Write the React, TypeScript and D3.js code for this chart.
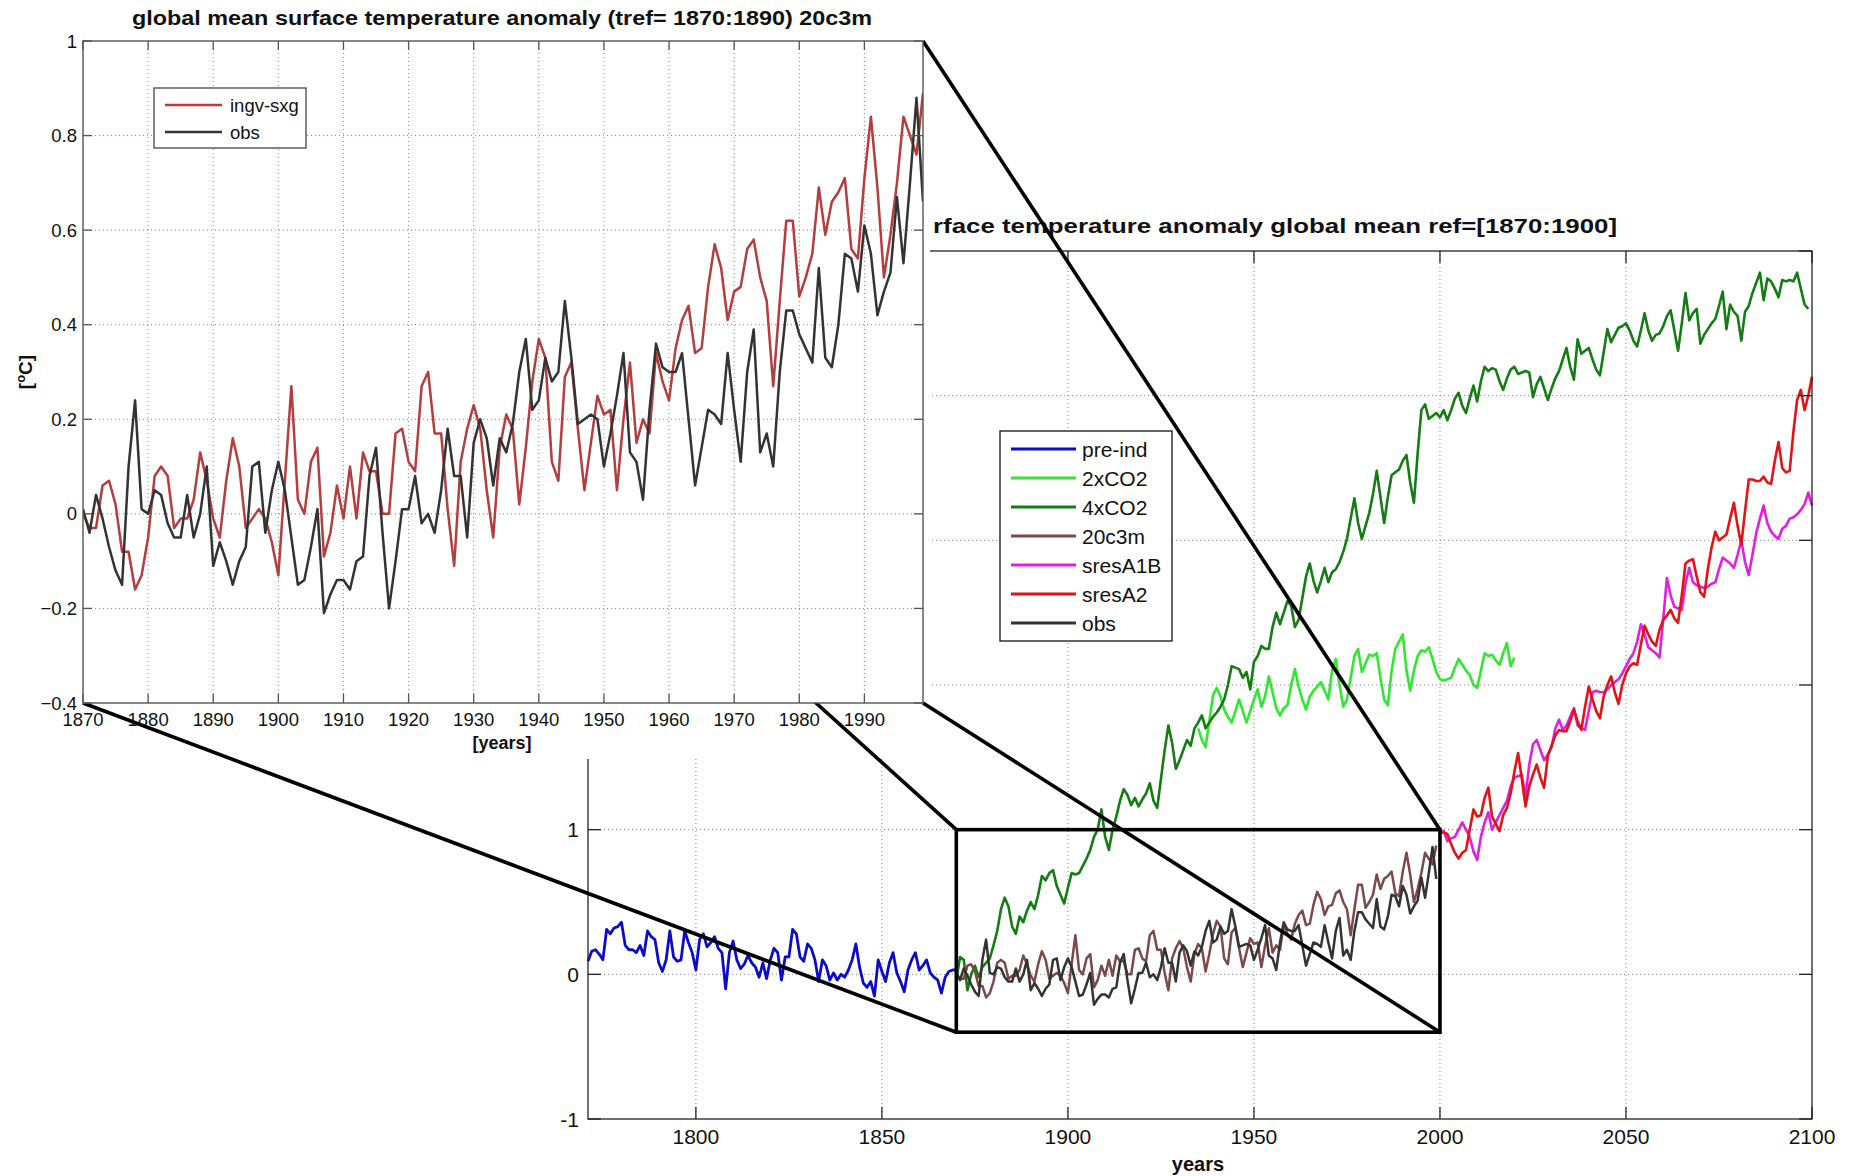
import React from 'react';
import * as d3 from 'd3';

// ---- 20th century runs (inset and main panel), annual from 1870 ----
const histStart = 1870;
const ingvSxg = [
  0.00, -0.03, -0.03, 0.06, 0.07, 0.02, -0.08, -0.08, -0.16, -0.13,
  -0.05, 0.08, 0.10, 0.08, -0.03, -0.01, -0.01, 0.03, 0.13, 0.07,
  -0.01, -0.05, 0.07, 0.16, 0.10, -0.03, -0.01, 0.01, -0.01, -0.06,
  -0.13, 0.07, 0.27, 0.03, 0.00, 0.11, 0.14, -0.09, -0.04, 0.06,
  -0.01, 0.10, -0.01, 0.13, 0.09, 0.09, 0.00, 0.00, 0.17, 0.18,
  0.11, 0.09, 0.27, 0.30, 0.17, 0.17, 0.01, -0.11, 0.11, 0.18,
  0.23, 0.18, 0.05, -0.05, 0.14, 0.21, 0.18, 0.02, 0.14, 0.28,
  0.37, 0.33, 0.11, 0.07, 0.29, 0.32, 0.18, 0.05, 0.15, 0.25,
  0.21, 0.22, 0.05, 0.20, 0.32, 0.15, 0.20, 0.17, 0.34, 0.28,
  0.24, 0.35, 0.41, 0.44, 0.34, 0.35, 0.48, 0.57, 0.52, 0.41,
  0.47, 0.48, 0.56, 0.58, 0.50, 0.45, 0.27, 0.45, 0.62, 0.62,
  0.46, 0.50, 0.55, 0.69, 0.59, 0.66, 0.68, 0.71, 0.56, 0.54,
  0.71, 0.84, 0.69, 0.50, 0.59, 0.70, 0.84, 0.80, 0.76, 0.89,
];
const obs = [
  0.01, -0.04, 0.04, -0.01, -0.07, -0.12, -0.15, 0.10, 0.24, 0.01,
  0.00, 0.05, 0.04, -0.02, -0.05, -0.05, 0.04, -0.05, 0.00, 0.10,
  -0.11, -0.06, -0.10, -0.15, -0.10, -0.07, 0.10, 0.11, -0.04, 0.05,
  0.11, 0.05, -0.05, -0.15, -0.14, -0.07, 0.01, -0.21, -0.17, -0.14,
  -0.14, -0.16, -0.10, -0.09, 0.08, 0.14, -0.04, -0.20, -0.10, 0.01,
  0.01, 0.08, -0.02, 0.00, -0.04, 0.05, 0.18, 0.08, 0.08, -0.05,
  0.15, 0.20, 0.16, 0.06, 0.16, 0.13, 0.19, 0.30, 0.37, 0.22,
  0.24, 0.33, 0.28, 0.30, 0.45, 0.33, 0.19, 0.20, 0.21, 0.20,
  0.10, 0.17, 0.25, 0.34, 0.13, 0.11, 0.03, 0.22, 0.36, 0.31,
  0.30, 0.30, 0.34, 0.20, 0.06, 0.14, 0.22, 0.21, 0.19, 0.34,
  0.22, 0.11, 0.30, 0.39, 0.13, 0.17, 0.10, 0.30, 0.43, 0.43,
  0.38, 0.35, 0.32, 0.52, 0.33, 0.31, 0.40, 0.55, 0.54, 0.47,
  0.61, 0.55, 0.42, 0.47, 0.51, 0.67, 0.53, 0.70, 0.88, 0.66,
];

// ---- main panel runs ----
const preIndStart = 1771;
const preInd = [
  0.09, 0.16, 0.17, 0.14, 0.10, 0.31, 0.28, 0.32, 0.33, 0.36,
  0.20, 0.17, 0.17, 0.15, 0.20, 0.13, 0.30, 0.26, 0.24, 0.08,
  0.02, 0.10, 0.30, 0.12, 0.09, 0.10, 0.30, 0.22, 0.15, 0.03,
  0.24, 0.28, 0.19, 0.22, 0.26, 0.18, 0.15, -0.10, 0.15, 0.23,
  0.10, 0.04, 0.07, 0.13, 0.08, 0.05, -0.02, 0.08, -0.03, 0.10,
  0.18, 0.15, -0.04, 0.12, 0.12, 0.31, 0.28, 0.12, 0.09, 0.21,
  0.18, 0.10, -0.05, 0.10, 0.06, -0.04, 0.01, -0.04, 0.00, -0.02,
  0.03, 0.10, 0.21, 0.05, -0.06, -0.09, -0.05, -0.15, 0.10, 0.02,
  -0.05, 0.08, 0.15, 0.01, -0.05, -0.12, 0.03, 0.10, 0.15, 0.03,
  0.06, 0.10, 0.01, -0.02, -0.04, -0.13, -0.02, 0.02, 0.03, 0.03,
];

const co2x2Start = 1935;
const co2x2 = [
  1.70, 1.62, 1.57, 1.75, 1.93,
  1.98, 1.92, 1.83, 1.78, 1.74, 1.82, 1.90, 1.82, 1.74, 1.82,
  1.90, 1.97, 1.85, 1.92, 2.06, 1.95, 1.84, 1.79, 1.84, 1.86,
  2.00, 2.11, 1.99, 1.90, 1.83, 1.92, 1.96, 1.99, 2.02, 1.96,
  1.90, 2.10, 2.18, 2.00, 1.85, 1.90, 2.05, 2.20, 2.25, 2.09,
  2.15, 2.21, 2.20, 2.22, 2.05, 1.90, 1.86, 2.10, 2.25, 2.30,
  2.35, 2.10, 1.96, 2.10, 2.20, 2.24, 2.23, 2.26, 2.18, 2.09,
  2.04, 2.03, 2.04, 2.05, 2.12, 2.18, 2.14, 2.10, 2.07, 2.00,
  1.98, 2.10, 2.22, 2.20, 2.21, 2.17, 2.14, 2.22, 2.29, 2.13,
  2.19,
];

const co2x4Start = 1870;
const co2x4 = [
  -0.04, 0.12, 0.10, -0.11, 0.00, 0.06, -0.02, 0.05, 0.08, 0.11,
  0.20, 0.30, 0.45, 0.53, 0.47, 0.33, 0.28, 0.40, 0.36, 0.44,
  0.50, 0.45, 0.55, 0.68, 0.65, 0.70, 0.72, 0.61, 0.55, 0.49,
  0.60, 0.70, 0.69, 0.70, 0.75, 0.80, 0.86, 0.95, 1.00, 1.14,
  0.95, 0.86, 1.00, 1.09, 1.20, 1.28, 1.24, 1.17, 1.22, 1.16,
  1.21, 1.25, 1.32, 1.20, 1.15, 1.35, 1.55, 1.72, 1.60, 1.42,
  1.48, 1.55, 1.62, 1.58, 1.70, 1.74, 1.79, 1.70, 1.74, 1.78,
  1.81, 1.85, 1.90, 2.00, 2.13, 2.12, 2.11, 2.05, 2.09, 1.97,
  2.16, 2.20, 2.27, 2.25, 2.25, 2.40, 2.50, 2.42, 2.50, 2.58,
  2.55, 2.40, 2.45, 2.60, 2.75, 2.84, 2.72, 2.64, 2.72, 2.81,
  2.71, 2.78, 2.80, 2.85, 2.92, 3.01, 3.15, 3.29, 3.12, 3.01,
  3.10, 3.19, 3.32, 3.48, 3.30, 3.12, 3.30, 3.45, 3.47, 3.49,
  3.55, 3.59, 3.40, 3.26, 3.60, 3.90, 3.94, 3.84, 3.86, 3.88,
  3.85, 3.90, 3.83, 3.90, 3.98, 4.02, 3.93, 3.88, 3.98, 4.07,
  3.96, 4.10, 4.20, 4.17, 4.19, 4.18, 4.10, 4.04, 4.12, 4.18,
  4.20, 4.15, 4.16, 4.17, 4.16, 3.99, 4.08, 4.13, 4.05, 3.97,
  4.05, 4.12, 4.17, 4.25, 4.33, 4.20, 4.11, 4.39, 4.29, 4.31,
  4.33, 4.25, 4.18, 4.14, 4.30, 4.46, 4.37, 4.42, 4.47, 4.48,
  4.50, 4.45, 4.38, 4.34, 4.45, 4.57, 4.45, 4.38, 4.42, 4.43,
  4.48, 4.55, 4.59, 4.45, 4.31, 4.50, 4.71, 4.52, 4.57, 4.60,
  4.36, 4.42, 4.46, 4.50, 4.53, 4.62, 4.72, 4.46, 4.63, 4.58,
  4.55, 4.38, 4.58, 4.62, 4.71, 4.78, 4.85, 4.66, 4.81, 4.79,
  4.74, 4.68, 4.80, 4.79, 4.80, 4.79, 4.85, 4.74, 4.63, 4.60,
];

const scenStart = 2000;
const sresA1B = [
  0.99, 0.99, 0.92, 0.94, 0.95, 1.00, 1.05, 1.00, 0.95, 0.85,
  0.79, 0.95, 1.05, 1.12, 1.00, 1.05, 1.10, 1.15, 1.20, 1.30,
  1.36, 1.37, 1.38, 1.23, 1.45, 1.59, 1.62, 1.55, 1.48, 1.52,
  1.57, 1.70, 1.76, 1.69, 1.72, 1.78, 1.84, 1.72, 1.70, 1.69,
  1.82, 1.95, 1.96, 1.95, 1.95, 1.97, 2.00, 2.02, 2.04, 2.08,
  2.13, 2.18, 2.22, 2.30, 2.42, 2.35, 2.26, 2.24, 2.22, 2.19,
  2.45, 2.74, 2.62, 2.54, 2.53, 2.52, 2.70, 2.81, 2.71, 2.69,
  2.68, 2.67, 2.68, 2.70, 2.71, 2.80, 2.88, 2.86, 2.84, 2.81,
  2.90, 3.00, 2.85, 2.76, 2.90, 3.05, 3.15, 3.24, 3.12, 3.06,
  3.03, 3.01, 3.08, 3.10, 3.15, 3.16, 3.18, 3.21, 3.25, 3.33,
  3.24,
];
const sresA2 = [
  0.98, 0.98, 0.97, 0.90, 0.84, 0.80, 0.84, 0.86, 1.00, 1.14,
  1.09, 1.10, 1.22, 1.29, 1.09, 1.04, 0.99, 1.10, 1.15, 1.25,
  1.40, 1.53, 1.35, 1.16, 1.30, 1.38, 1.45, 1.36, 1.29, 1.51,
  1.58, 1.65, 1.69, 1.68, 1.68, 1.75, 1.83, 1.75, 1.69, 1.85,
  1.99, 1.90, 1.82, 1.77, 1.92, 2.00, 2.06, 1.95, 1.87, 2.00,
  2.08, 2.13, 2.15, 2.14, 2.28, 2.41, 2.35, 2.30, 2.27, 2.38,
  2.45, 2.48, 2.52, 2.46, 2.43, 2.62, 2.84, 2.86, 2.87, 2.75,
  2.64, 2.61, 2.80, 2.95, 3.06, 3.00, 3.02, 3.04, 3.15, 3.26,
  3.10, 2.97, 3.20, 3.42, 3.42, 3.41, 3.41, 3.44, 3.40, 3.39,
  3.55, 3.68, 3.50, 3.47, 3.48, 3.75, 3.97, 4.04, 3.90, 4.00,
  4.13,
];

// ---- ticks ----
const mainXTicks = [1800, 1850, 1900, 1950, 2000, 2050, 2100];
const mainYTicks = [-1, 0, 1, 2, 3, 4, 5];
const mainYLabelled = [-1, 0, 1];
const insetXTicks = [1870, 1880, 1890, 1900, 1910, 1920, 1930, 1940, 1950, 1960, 1970, 1980, 1990];
const insetYTicks = [-0.4, -0.2, 0, 0.2, 0.4, 0.6, 0.8, 1];
// zoom window drawn on the main panel
const zoomYears = [1870, 2000];
const zoomTemps = [-0.4, 1];

const FONT = 'Liberation Sans, Arial, Helvetica, sans-serif';

const mainSeries = [
  { name: 'pre-ind', start: preIndStart, values: preInd, color: '#0b0bcc', width: 2.8 },
  { name: '2xCO2', start: co2x2Start, values: co2x2, color: '#2fe82f', width: 2.6 },
  { name: '4xCO2', start: co2x4Start, values: co2x4, color: '#137c13', width: 2.6 },
  { name: '20c3m', start: histStart, values: ingvSxg, color: '#7d4848', width: 2.5 },
  { name: 'sresA1B', start: scenStart, values: sresA1B, color: '#e31ee3', width: 2.6 },
  { name: 'sresA2', start: scenStart, values: sresA2, color: '#e01414', width: 2.6 },
  { name: 'obs', start: histStart, values: obs, color: '#333333', width: 2.5 },
];

const insetSeries = [
  { name: 'ingv-sxg', start: histStart, values: ingvSxg, color: '#b53d3d' },
  { name: 'obs', start: histStart, values: obs, color: '#333333' },
];

const App = () => {
  const mx = d3.scaleLinear().domain([1771, 2100]).range([588, 1812]);
  const my = d3.scaleLinear().domain([-1, 5]).range([1119, 251]);
  const ix = d3.scaleLinear().domain([1870, 1999]).range([83, 923]);
  const iy = d3.scaleLinear().domain([-0.4, 1]).range([703, 41]);

  const [mx0, mx1] = mx.range();
  const [my0, my1] = my.range();
  const [ix0, ix1] = ix.range();
  const [iy0, iy1] = iy.range();

  const mainLine = (start: number) =>
    d3.line<number>().x((_, i) => mx(start + i)).y(d => my(d));
  const insetLine = (start: number) =>
    d3.line<number>().x((_, i) => ix(start + i)).y(d => iy(d));

  const bx0 = mx(zoomYears[0]), bx1 = mx(zoomYears[1]);
  const by0 = my(zoomTemps[1]), by1 = my(zoomTemps[0]);

  const grid = { stroke: '#858585', strokeWidth: 1, strokeDasharray: '1 3' };
  const axisCol = '#222';
  const insetAxisCol = '#555';

  return (
    <svg width={1851} height={1176} style={{ position: 'absolute', left: 0, top: 0, background: '#fff' }}
      fontFamily={FONT}>
      <defs>
        <clipPath id="insetClip">
          <rect x={ix0} y={iy1} width={ix1 - ix0} height={iy0 - iy1} />
        </clipPath>
      </defs>
      <rect width={1851} height={1176} fill="#fff" />

      {/* ---------- main panel ---------- */}
      <g>
        {mainXTicks.filter(t => t > 1771 && t < 2100).map(t => (
          <line key={'mgx' + t} x1={mx(t)} x2={mx(t)} y1={my1} y2={my0} {...grid} />
        ))}
        {mainYTicks.filter(t => t > -1 && t < 5).map(t => (
          <line key={'mgy' + t} x1={mx0} x2={mx1} y1={my(t)} y2={my(t)} {...grid} />
        ))}
        {mainSeries.map(s => (
          <path key={s.name} d={mainLine(s.start)(s.values) || ''} fill="none" stroke={s.color}
            strokeWidth={s.width} strokeLinejoin="round" />
        ))}
        <rect x={mx0} y={my1} width={mx1 - mx0} height={my0 - my1} fill="none" stroke={axisCol} strokeWidth={1.3} />
        {mainXTicks.map(t => (
          <g key={'mtx' + t}>
            <line x1={mx(t)} x2={mx(t)} y1={my0} y2={my0 - 12} stroke={axisCol} strokeWidth={1.3} />
            <line x1={mx(t)} x2={mx(t)} y1={my1} y2={my1 + 12} stroke={axisCol} strokeWidth={1.3} />
            <text x={mx(t)} y={1144} textAnchor="middle" fontSize={21} fill="#111">{t}</text>
          </g>
        ))}
        {mainYTicks.map(t => (
          <g key={'mty' + t}>
            <line x1={mx0} x2={mx0 + 13} y1={my(t)} y2={my(t)} stroke={axisCol} strokeWidth={1.3} />
            <line x1={mx1} x2={mx1 - 13} y1={my(t)} y2={my(t)} stroke={axisCol} strokeWidth={1.3} />
          </g>
        ))}
        {mainYLabelled.map(t => (
          <text key={'myl' + t} x={579} y={my(t) + 7.5} textAnchor="end" fontSize={21} fill="#111">{t}</text>
        ))}
        <text x={1198} y={1171} textAnchor="middle" fontSize={20} fontWeight="bold" fill="#111">years</text>
        <text x={933} y={233} fontSize={21} fontWeight="bold" fill="#111" textLength={684}
          lengthAdjust="spacingAndGlyphs">rface temperature anomaly global mean ref=[1870:1900]</text>

        {/* legend */}
        <g>
          <rect x={1000} y={431} width={172} height={210} fill="#fff" stroke="#111" strokeWidth={1.3} />
          {mainSeries.map((s, i) => (
            <g key={'ml' + s.name} transform={`translate(0,${449 + i * 29})`}>
              <line x1={1011} x2={1076} y1={0} y2={0} stroke={s.color} strokeWidth={2.8} />
              <text x={1082} y={7.5} fontSize={21} fill="#111">{s.name}</text>
            </g>
          ))}
        </g>
      </g>

      {/* white area behind the pasted inset */}
      <rect x={0} y={0} width={930} height={759} fill="#fff" />

      {/* connector lines and zoom window */}
      <g stroke="#000" strokeWidth={3.6} fill="none">
        <line x1={ix0} y1={iy1} x2={bx0} y2={by0} />
        <line x1={ix0} y1={iy0} x2={bx0} y2={by1} />
        <line x1={ix1} y1={iy1} x2={bx1} y2={by0} />
        <line x1={ix1} y1={iy0} x2={bx1} y2={by1} />
        <rect x={bx0} y={by0} width={bx1 - bx0} height={by1 - by0} />
      </g>

      {/* ---------- inset panel ---------- */}
      <g>
        <rect x={ix0} y={iy1} width={ix1 - ix0} height={iy0 - iy1} fill="#fff" />
        {insetXTicks.filter(t => t > 1870).map(t => (
          <line key={'igx' + t} x1={ix(t)} x2={ix(t)} y1={iy1} y2={iy0} {...grid} />
        ))}
        {insetYTicks.filter(t => t > -0.4 && t < 1).map(t => (
          <line key={'igy' + t} x1={ix0} x2={ix1} y1={iy(t)} y2={iy(t)} {...grid} />
        ))}
        <g clipPath="url(#insetClip)">
          {insetSeries.map(s => (
            <path key={'is' + s.name} d={insetLine(s.start)(s.values) || ''} fill="none" stroke={s.color}
              strokeWidth={2.5} strokeLinejoin="round" />
          ))}
        </g>
        <rect x={ix0} y={iy1} width={ix1 - ix0} height={iy0 - iy1} fill="none" stroke={insetAxisCol} strokeWidth={1.4} />
        {insetXTicks.map(t => (
          <g key={'itx' + t}>
            <line x1={ix(t)} x2={ix(t)} y1={iy0} y2={iy0 - 9} stroke={insetAxisCol} strokeWidth={1.3} />
            <line x1={ix(t)} x2={ix(t)} y1={iy1} y2={iy1 + 9} stroke={insetAxisCol} strokeWidth={1.3} />
            <text x={ix(t)} y={726} textAnchor="middle" fontSize={18.5} fill="#111">{t}</text>
          </g>
        ))}
        {insetYTicks.map(t => (
          <g key={'ity' + t}>
            <line x1={ix0} x2={ix0 + 9} y1={iy(t)} y2={iy(t)} stroke={insetAxisCol} strokeWidth={1.3} />
            <line x1={ix1} x2={ix1 - 9} y1={iy(t)} y2={iy(t)} stroke={insetAxisCol} strokeWidth={1.3} />
            <text x={77} y={iy(t) + 6.5} textAnchor="end" fontSize={18.5} fill="#111">{d3.format('~g')(t)}</text>
          </g>
        ))}
        <text x={502} y={749} textAnchor="middle" fontSize={18} fontWeight="bold" fill="#111">[years]</text>
        <text transform="translate(32,372) rotate(-90)" textAnchor="middle" fontSize={19} fontWeight="bold" fill="#111">
          [<tspan dy={-7} fontSize={13}>o</tspan><tspan dy={7}>C]</tspan>
        </text>
        <text x={502} y={25} textAnchor="middle" fontSize={21} fontWeight="bold" fill="#111" textLength={740}
          lengthAdjust="spacingAndGlyphs">global mean surface temperature anomaly (tref= 1870:1890) 20c3m</text>

        {/* inset legend */}
        <g>
          <rect x={154} y={88} width={152} height={60} fill="#fff" stroke="#444" strokeWidth={1.3} />
          {insetSeries.map((s, i) => (
            <g key={'il' + s.name} transform={`translate(0,${105 + i * 27})`}>
              <line x1={165} x2={222} y1={0} y2={0} stroke={s.color} strokeWidth={2.6} />
              <text x={230} y={6.5} fontSize={18.5} fill="#111">{s.name}</text>
            </g>
          ))}
        </g>
      </g>
    </svg>
  );
};

export default App;
